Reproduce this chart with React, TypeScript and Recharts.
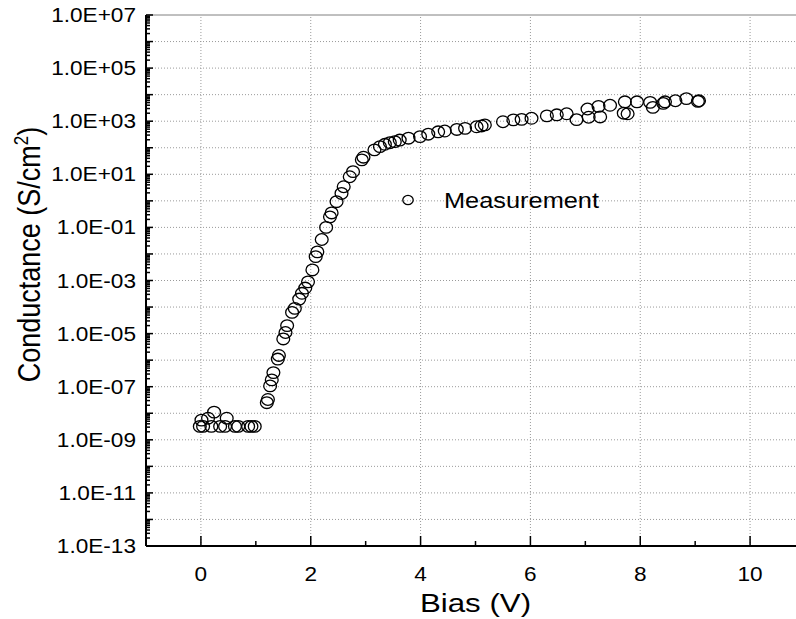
import React from 'react';
import { ScatterChart, Scatter, XAxis, YAxis, ReferenceLine, Legend, Label } from 'recharts';

// Bias (V)
const biasV: number[] = [
  -0.02, 0.01, 0.04, 0.13, 0.19, 0.24, 0.35, 0.44, 0.47, 0.62, 0.68, 0.86, 0.92, 0.98,
  1.20, 1.22, 1.26, 1.29, 1.32, 1.40, 1.42, 1.50, 1.54, 1.57, 1.66, 1.71, 1.79, 1.84, 1.90, 1.95,
  2.03, 2.09, 2.12, 2.20, 2.28, 2.35, 2.38, 2.47, 2.56, 2.60, 2.71, 2.77, 2.93, 2.96,
  3.16, 3.26, 3.35, 3.44, 3.53, 3.62, 3.78, 3.99, 4.14, 4.32, 4.44, 4.66, 4.81, 5.02, 5.11, 5.17,
  5.50, 5.69, 5.84, 6.02, 6.30, 6.48, 6.66, 6.84, 7.04, 7.06, 7.24, 7.27, 7.45, 7.72, 7.70, 7.77,
  7.94, 8.18, 8.23, 8.42, 8.45, 8.64, 8.84, 9.05, 9.07,
];

// Conductance (S/cm^2)
const conductance: number[] = [
  3.2e-9, 5.5e-9, 3.2e-9, 6.5e-9, 3.2e-9, 1.1e-8, 3.2e-9, 3.2e-9, 6.5e-9, 3.2e-9, 3.2e-9, 3.2e-9, 3.2e-9, 3.2e-9,
  2.5e-8, 3.3e-8, 1.07e-7, 1.8e-7, 3.4e-7, 1.1e-6, 1.5e-6, 6.3e-6, 1.1e-5, 2.0e-5, 6.3e-5, 8.9e-5, 2.0e-4, 3.3e-4, 5.2e-4, 8.9e-4,
  2.5e-3, 7.9e-3, 1.2e-2, 3.5e-2, 1.0e-1, 2.5e-1, 3.5e-1, 9.3e-1, 1.9, 3.4, 8.1, 12.6, 35, 44,
  83, 110, 135, 155, 170, 195, 229, 263, 324, 398, 427, 490, 537, 617, 661, 724,
  955, 1120, 1175, 1290, 1585, 1740, 1905, 1150, 2880, 1410, 3630, 1445, 3980, 5370, 2000, 1905,
  5370, 5130, 3310, 4680, 5370, 5890, 7080, 5620, 5890,
];

const xMajorTicks = [0, 2, 4, 6, 8, 10];
const xMinorTicks = [1, 3, 5, 7, 9];
const yDecades = [1e7, 1e6, 1e5, 1e4, 1e3, 1e2, 1e1, 1, 1e-1, 1e-2, 1e-3, 1e-4, 1e-5, 1e-6, 1e-7, 1e-8, 1e-9, 1e-10, 1e-11, 1e-12, 1e-13];
const yLabelExponents = [7, 5, 3, 1, -1, -3, -5, -7, -9, -11, -13];
const minorMultipliers = [2, 3, 4, 5, 6, 7, 8, 9];

const yMinorTicks: number[] = [];
yDecades.slice(1).forEach((d) => minorMultipliers.forEach((m) => yMinorTicks.push(d * m)));
const yAllTicks = [...yDecades, ...yMinorTicks].sort((a, b) => a - b);
const xAllTicks = [...xMajorTicks, ...xMinorTicks].sort((a, b) => a - b);

const points = biasV.map((x, i) => ({ x, y: conductance[i] }));

const FONT = 'Liberation Sans, Arial, sans-serif';
const SX = 1.16;

const fmtExp = (e: number) => `1.0E${e < 0 ? '-' : '+'}${String(Math.abs(e)).padStart(2, '0')}`;

const YTick = (props: any) => {
  const { x, y, payload } = props;
  const v = payload.value as number;
  const lg = Math.log10(v);
  const exp = Math.round(lg);
  const isDecade = Math.abs(lg - exp) < 1e-6;
  const len = isDecade ? 7 : 4;
  const showLabel = isDecade && yLabelExponents.includes(exp);
  return (
    <g>
      <line x1={x} y1={y} x2={x + len} y2={y} stroke="#000" strokeWidth={1.5} />
      {showLabel && (
        <text
          transform={`translate(${x - 10},${y}) scale(${SX},1)`}
          dy="0.36em"
          textAnchor="end"
          fontFamily={FONT}
          fontSize={19.5}
          fill="#000"
        >
          {fmtExp(exp)}
        </text>
      )}
    </g>
  );
};

const XTick = (props: any) => {
  const { x, y, payload } = props;
  const v = payload.value as number;
  const isMajor = xMajorTicks.includes(v);
  const len = isMajor ? 10 : 5;
  return (
    <g>
      <line x1={x} y1={y} x2={x} y2={y - len} stroke="#000" strokeWidth={1.5} />
      {isMajor && (
        <text
          transform={`translate(${x},${y + 35}) scale(${SX},1)`}
          textAnchor="middle"
          fontFamily={FONT}
          fontSize={19.5}
          fill="#000"
        >
          {String(v)}
        </text>
      )}
    </g>
  );
};

const XTitle = (props: any) => {
  const vb = props.viewBox || { x: 0, y: 0, width: 0, height: 0 };
  const cx = vb.x + vb.width / 2;
  return (
    <text
      transform={`translate(${cx},${vb.y + 66}) scale(1.18,1)`}
      textAnchor="middle"
      fontFamily={FONT}
      fontSize={26.5}
      fill="#000"
    >
      Bias (V)
    </text>
  );
};

const YTitle = (props: any) => {
  const vb = props.viewBox || { x: 0, y: 0, width: 0, height: 0 };
  const cy = vb.y + vb.height / 2 - 26;
  return (
    <text
      transform={`translate(${vb.x + 40},${cy}) rotate(-90) scale(1,${SX})`}
      textAnchor="middle"
      fontFamily={FONT}
      fontSize={27}
      fill="#000"
    >
      Conductance (S/cm
      <tspan dy={-10} fontSize={17}>2</tspan>
      <tspan dy={10}>)</tspan>
    </text>
  );
};

const CircleShape = (props: any) => {
  const { cx, cy } = props;
  if (cx == null || cy == null) return null;
  return <ellipse cx={cx} cy={cy} rx={6.4} ry={5.8} fill="none" stroke="#000" strokeWidth={1.3} />;
};

const LegendContent = () => (
  <svg width={240} height={30} style={{ display: 'block', overflow: 'visible' }}>
    <ellipse cx={10} cy={15} rx={5.2} ry={4.7} fill="none" stroke="#000" strokeWidth={1.3} />
    <text
      transform={`translate(46,22.5) scale(1.18,1)`}
      fontFamily={FONT}
      fontSize={21.5}
      fill="#000"
    >
      Measurement
    </text>
  </svg>
);

export default function App() {
  return (
    <div style={{ position: 'fixed', left: 0, top: 0, width: 796, height: 619, overflow: 'hidden', background: '#fff' }}>
      <ScatterChart width={820} height={619} margin={{ top: 15, right: 15, bottom: 0, left: 0 }}>
        {yDecades.map((d) => (
          <ReferenceLine
            key={`h${d}`}
            y={d}
            stroke={d === 1e7 ? '#808080' : '#9a9a9a'}
            strokeWidth={1}
            strokeDasharray={d === 1e7 ? undefined : '1 2'}
          />
        ))}
        {xMajorTicks.map((v) => (
          <ReferenceLine key={`v${v}`} x={v} stroke="#9a9a9a" strokeWidth={1} strokeDasharray="1 2" />
        ))}
        <XAxis
          type="number"
          dataKey="x"
          domain={[-1, 11]}
          allowDataOverflow
          ticks={xAllTicks}
          interval={0}
          tickSize={0}
          tickMargin={0}
          tickLine={false}
          tick={XTick}
          axisLine={{ stroke: '#000', strokeWidth: 2 }}
          height={73}
        >
          <Label content={XTitle} />
        </XAxis>
        <YAxis
          type="number"
          dataKey="y"
          scale="log"
          domain={[1e-13, 1e7]}
          allowDataOverflow
          ticks={yAllTicks}
          interval={0}
          tickSize={0}
          tickMargin={0}
          tickLine={false}
          tick={YTick}
          axisLine={{ stroke: '#000', strokeWidth: 2 }}
          width={146}
        >
          <Label content={YTitle} />
        </YAxis>
        <Scatter
          name="Measurement"
          data={points}
          shape={CircleShape}
          isAnimationActive={false}
        />
        <Legend
          layout="horizontal"
          verticalAlign="middle"
          align="center"
          content={LegendContent}
          wrapperStyle={{ left: 398, top: 185, width: 240, height: 30 }}
        />
      </ScatterChart>
    </div>
  );
}
